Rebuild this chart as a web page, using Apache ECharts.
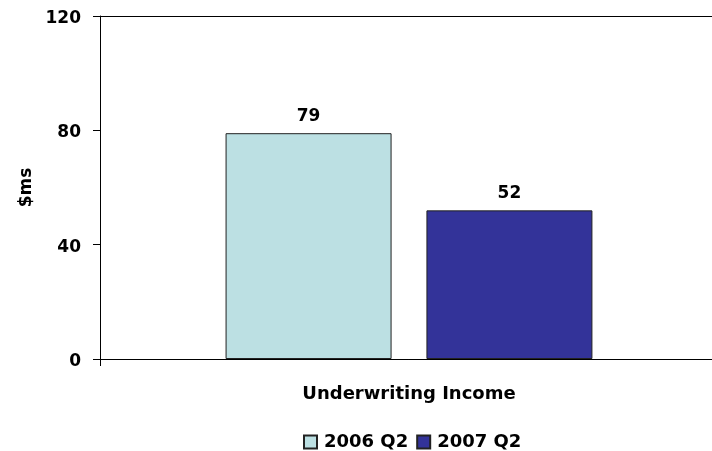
<!DOCTYPE html>
<html>
<head>
<meta charset="utf-8">
<script src="https://cdn.jsdelivr.net/npm/echarts@6/dist/echarts.min.js"></script>
<style>
  html, body { margin: 0; padding: 0; background: #fff; overflow: hidden; }
  #chart { width: 718px; height: 451px; }
</style>
</head>
<body>
<div id="chart"></div>
<script>
// Underwriting income by quarter, in $ millions
const categories = ['Underwriting Income'];
const seriesNames = ['2006 Q2', '2007 Q2'];
const values2006Q2 = [79];
const values2007Q2 = [52];
const yTicks = [0, 40, 80, 120];

const FONT = '"DejaVu Sans", sans-serif';
const chart = echarts.init(document.getElementById('chart'));

const boldText = (size) => ({ fontFamily: FONT, fontWeight: 'bold', fontSize: size, color: '#000' });

chart.setOption({
  animation: false,
  textStyle: { fontFamily: FONT },
  // the plot runs slightly past the right edge of the visible page
  grid: { left: 100, right: 0, top: 16, bottom: 92 },
  legend: {
    data: seriesNames,
    left: 298,
    top: 428,
    icon: 'rect',
    itemWidth: 13,
    itemHeight: 13,
    itemGap: 8,
    textStyle: Object.assign(boldText(18), { padding: [0, 0, 0, 2] })
  },
  xAxis: [
    {
      type: 'category',
      data: categories,
      position: 'bottom',
      axisLine: { lineStyle: { color: '#000', width: 1 } },
      axisTick: { show: true, length: 7, lineStyle: { color: '#000' } },
      axisLabel: Object.assign(boldText(18), { margin: 26 })
    },
    {
      // top border line of the plot at the maximum value
      type: 'category',
      data: categories,
      position: 'top',
      axisLine: { show: true, lineStyle: { color: '#000', width: 1 } },
      axisTick: { show: false },
      axisLabel: { show: false }
    }
  ],
  yAxis: {
    type: 'value',
    min: yTicks[0],
    max: yTicks[yTicks.length - 1],
    interval: yTicks[1] - yTicks[0],
    name: '$ms',
    nameLocation: 'middle',
    nameGap: 65,
    nameTextStyle: boldText(17),
    axisLine: { show: true, lineStyle: { color: '#000', width: 1 } },
    axisTick: { show: true, length: 7, lineStyle: { color: '#000' } },
    splitLine: { show: false },
    axisLabel: {
      margin: 19,
      formatter: '{v|{value}}',
      rich: { v: Object.assign(boldText(17), { padding: [5, 0, 0, 0] }) }
    }
  },
  series: [
    {
      name: seriesNames[0],
      type: 'bar',
      data: values2006Q2,
      barWidth: 166,
      barGap: '21%',
      itemStyle: { color: '#BCE0E3', borderColor: '#222', borderWidth: 1 },
      label: Object.assign(boldText(17), { show: true, position: 'top', distance: 8 })
    },
    {
      name: seriesNames[1],
      type: 'bar',
      data: values2007Q2,
      barWidth: 166,
      barGap: '21%',
      itemStyle: { color: '#333399', borderColor: '#222', borderWidth: 1 },
      label: Object.assign(boldText(17), { show: true, position: 'top', distance: 8 })
    }
  ]
});
</script>
</body>
</html>
